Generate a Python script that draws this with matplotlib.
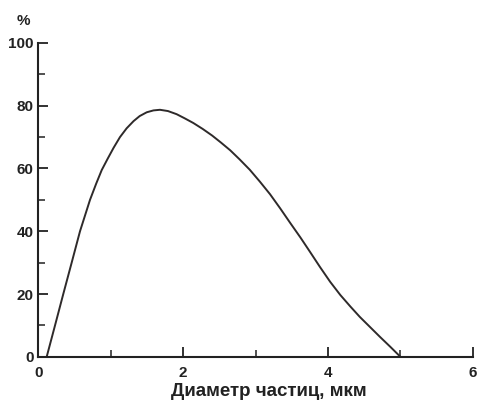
import matplotlib
matplotlib.use("Agg")
import matplotlib.pyplot as plt
from matplotlib.ticker import MultipleLocator

# particle size distribution
diameter_um = [0.116, 0.231, 0.345, 0.461, 0.576, 0.714, 0.80, 0.876, 0.96, 1.04,
               1.128, 1.22, 1.316, 1.40, 1.497, 1.59, 1.68, 1.79, 1.91, 2.02,
               2.14, 2.27, 2.40, 2.52, 2.65, 2.78, 2.92, 3.06, 3.20, 3.34,
               3.48, 3.62, 3.75, 3.89, 4.03, 4.17, 4.31, 4.44, 4.58, 4.72,
               4.86, 5.00]
share_pct = [0.0, 10.0, 20.0, 30.0, 40.0, 50.0, 55.2, 59.5, 63.2, 66.6,
             70.0, 72.8, 75.1, 76.7, 77.9, 78.5, 78.7, 78.3, 77.3, 76.0,
             74.5, 72.6, 70.5, 68.3, 65.8, 62.9, 59.6, 55.8, 51.8, 47.3,
             42.6, 38.0, 33.5, 28.6, 23.9, 19.7, 16.0, 12.7, 9.5, 6.3,
             3.2, 0.0]

xticks = [0, 2, 4, 6]
yticks = [0, 20, 40, 60, 80, 100]

plt.rcParams["font.family"] = ["Liberation Sans", "DejaVu Sans"]
plt.rcParams["font.weight"] = "bold"
ink = "#222222"

fig = plt.figure(figsize=(4.81, 4.05), dpi=100)
ax = fig.add_axes([0.0796, 0.119, 0.9034, 0.775])

ax.plot(diameter_um, share_pct, color="#2e2a2a", lw=1.4,
        solid_joinstyle="round", solid_capstyle="round")

ax.set_xlim(0, 6)
ax.set_ylim(0, 100)
ax.set_xticks(xticks)
ax.set_yticks(yticks)
ax.xaxis.set_minor_locator(MultipleLocator(1))
ax.yaxis.set_minor_locator(MultipleLocator(10))

for side in ("top", "right"):
    ax.spines[side].set_visible(False)
for side in ("left", "bottom"):
    ax.spines[side].set_linewidth(1.5)
    ax.spines[side].set_color(ink)

ax.tick_params(which="major", direction="in", length=7, width=1.3,
               labelsize=11, colors=ink)
ax.tick_params(which="minor", direction="in", length=5, width=1.1, colors=ink)
ax.tick_params(axis="x", which="major", pad=6.5)
ax.tick_params(axis="y", which="major", pad=3.5)
for lbl in ax.get_xticklabels() + ax.get_yticklabels():
    lbl.set_fontweight("bold")

ax.set_xlabel("Диаметр частиц, мкм", fontsize=13.5, fontweight="bold", color=ink)
ax.xaxis.set_label_coords(0.53, -0.083)
fig.text(0.049, 0.948, "%", fontsize=11, fontweight="bold", color=ink,
         ha="center", va="center")

fig.savefig("out.png", dpi=100)
